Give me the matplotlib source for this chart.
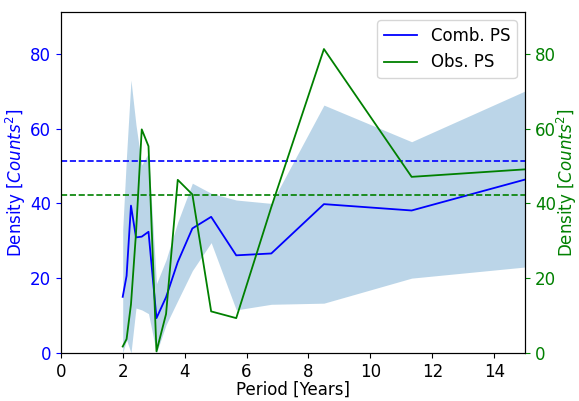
import numpy as np
import matplotlib
matplotlib.use("Agg")
import matplotlib.pyplot as plt

# periods of the power spectrum points (last one lies past the x limit)
periods = [2.0, 2.125, 2.267, 2.429, 2.615, 2.833, 3.091, 3.4, 3.778,
           4.25, 4.857, 5.667, 6.8, 8.5, 11.333, 17.0]
comb_ps = [15.0, 20.6, 39.4, 30.9, 31.1, 32.4, 9.3, 14.9, 24.3,
           33.3, 36.4, 26.1, 26.6, 39.8, 38.1, 50.9]
obs_ps = [1.7, 3.7, 13.0, 32.0, 59.8, 55.3, 0.4, 10.4, 46.3,
          42.4, 11.1, 9.3, 39.0, 81.3, 47.1, 50.2]
band_low = [0.0, 3.5, 0.0, 12.0, 11.5, 10.5, 0.0, 7.5, 14.0,
            22.0, 29.5, 11.5, 13.0, 13.3, 20.0, 24.6]
band_high = [33.0, 53.0, 73.0, 61.0, 50.3, 53.5, 18.5, 24.9, 35.0,
             45.4, 42.7, 40.9, 40.0, 66.3, 56.5, 77.5]
comb_level = 51.4
obs_level = 42.2

plt.rcParams["font.size"] = 12

fig, ax1 = plt.subplots(figsize=(5.79, 4.01), dpi=100)
fig.subplots_adjust(left=0.105, right=0.907, top=0.970, bottom=0.120)

ax1.fill_between(periods, band_low, band_high, color="C0", alpha=0.3, lw=0)
l1, = ax1.plot(periods, comb_ps, color="b", lw=1.3, label="Comb. PS")
ax1.axhline(comb_level, color="b", ls="--", lw=1.2)
ax1.set_xlim(0, 15)
ax1.set_ylim(0, 91.2)
ax1.set_xlabel("Period [Years]", labelpad=0)
ax1.set_ylabel("Density [$Counts^2$]", color="b", labelpad=1.5)
ax1.tick_params(axis="y", colors="b")
ax1.set_xticks(np.arange(0, 15, 2))

ax2 = ax1.twinx()
l2, = ax2.plot(periods, obs_ps, color="g", lw=1.3, label="Obs. PS")
ax2.axhline(obs_level, color="g", ls="--", lw=1.2)
ax2.set_ylim(0, 91.2)
ax2.set_ylabel("Density [$Counts^2$]", color="g", labelpad=-1.0)
ax2.tick_params(axis="y", colors="g")
ax2.legend(handles=[l1, l2], loc="upper right")

fig.savefig("out.png", dpi=100)
